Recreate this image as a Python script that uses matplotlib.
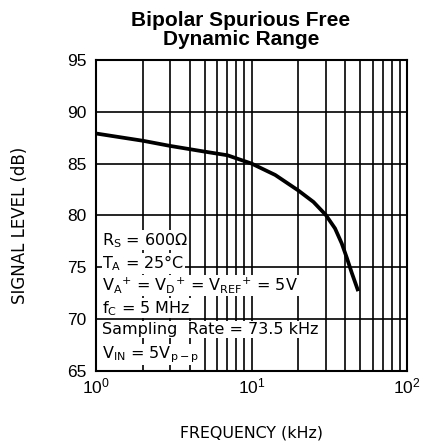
import matplotlib.pyplot as plt
import numpy as np

plt.rcParams["font.family"] = ["Liberation Sans", "DejaVu Sans"]
plt.rcParams["mathtext.fontset"] = "custom"
plt.rcParams["mathtext.rm"] = "DejaVu Sans"
plt.rcParams["mathtext.it"] = "DejaVu Sans"

# SFDR vs input frequency
freq_khz = [1, 2, 3, 5, 7, 8, 10, 14.2, 20, 25, 30, 34.4, 38, 41, 44, 48.5]
sfdr_db = [87.9, 87.2, 86.7, 86.15, 85.8, 85.5, 85.0, 83.9, 82.4, 81.3, 80.05, 78.75, 77.3, 75.9, 74.5, 72.7]

conditions = [
    r"R$_\mathregular{S}$ = 600$\mathregular{\Omega}$",
    r"T$_\mathregular{A}$ = 25°C",
    r"V$_\mathregular{A}$$^\mathregular{+}$ = V$_\mathregular{D}$$^\mathregular{+}$ = V$_\mathregular{REF}$$^\mathregular{+}$ = 5V",
    r"f$_\mathregular{C}$ = 5 MHz",
    "Sampling  Rate = 73.5 kHz",
    r"V$_\mathregular{IN}$ = 5V$_\mathregular{p-p}$",
]

fig = plt.figure(figsize=(4.21, 4.42), dpi=100)
ax = fig.add_axes([0.228, 0.1606, 0.739, 0.704])

ax.set_xscale("log")
ax.set_xlim(1, 100)
ax.set_ylim(65, 95)
ax.set_yticks(np.arange(65, 96, 5))
ax.grid(True, which="both", color="black", linewidth=1.2)
ax.tick_params(which="both", length=0, labelsize=12.5, pad=7)
ax.tick_params(axis="x", pad=4)
for s in ax.spines.values():
    s.set_linewidth(1.5)

ax.plot(freq_khz, sfdr_db, color="black", linewidth=2.7, solid_capstyle="butt",
        solid_joinstyle="round", zorder=3)

ys = [0.428, 0.354, 0.283, 0.209, 0.138, 0.064]
for txt, y in zip(conditions, ys):
    ax.text(0.02, y, txt, transform=ax.transAxes, fontsize=11.5,
            family="DejaVu Sans", va="center_baseline", ha="left", zorder=4,
            bbox=dict(facecolor="white", edgecolor="none", pad=0.5))

fig.text(0.572, 0.932, "Bipolar Spurious Free\nDynamic Range", ha="center", va="center",
         fontsize=15, fontweight="bold", linespacing=0.95)
fig.text(0.048, 0.49, "SIGNAL LEVEL (dB)", rotation=90, ha="center", va="center",
         fontsize=12, family="DejaVu Sans")
fig.text(0.597, 0.02, "FREQUENCY (kHz)", ha="center", va="center",
         fontsize=11.4, family="DejaVu Sans")

fig.savefig("out.png", dpi=100)
